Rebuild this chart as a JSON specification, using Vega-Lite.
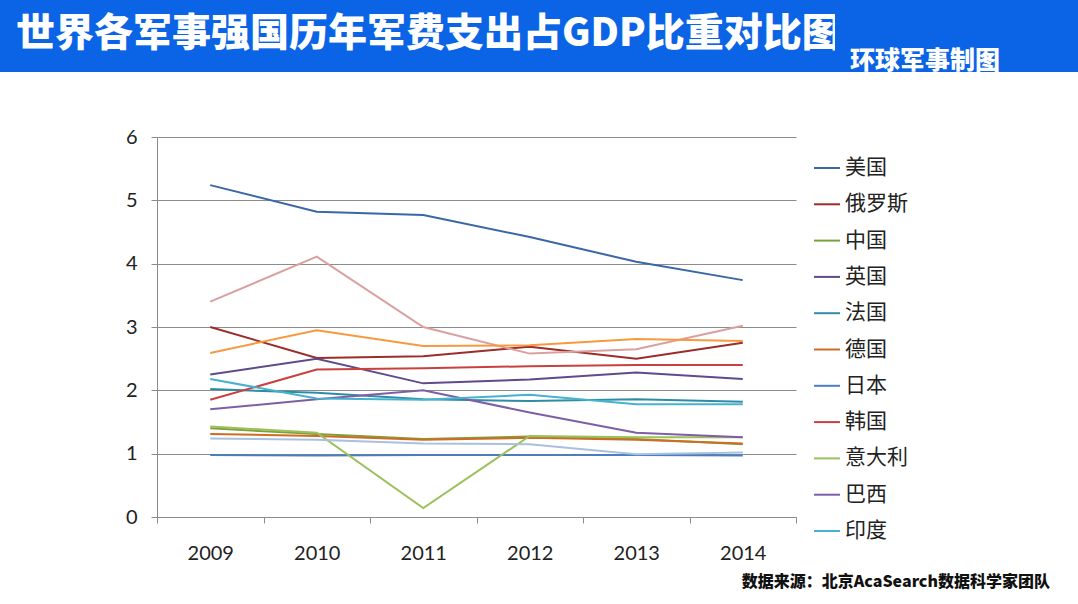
{
  "$schema": "https://vega.github.io/schema/vega-lite/v6.json",
  "background": "white",
  "padding": {"left": 0, "top": 0, "right": 0, "bottom": 14},
  "bounds": "flush",
  "spacing": 137,
  "config": {"view": {"stroke": null}, "font": "Noto Sans CJK SC"},
  "vconcat": [
    {
      "bounds": "flush",
      "spacing": 0,
      "hconcat": [
        {
          "width": 835,
          "height": 72,
          "view": {"fill": "#0B63E5", "stroke": null},
          "data": {"values": [{}]},
          "mark": {"type": "point", "opacity": 0},
          "encoding": {},
          "title": {"text": "世界各军事强国历年军费支出占GDP比重对比图", "orient": "bottom", "anchor": "start", "frame": "group", "offset": -57, "dx": 16, "fontSize": 39, "fontWeight": 900, "color": "white", "font": "Noto Sans CJK SC"}
        },
        {
          "width": 243,
          "height": 72,
          "view": {"fill": "#0B63E5", "stroke": null},
          "data": {"values": [{}]},
          "mark": {"type": "point", "opacity": 0},
          "encoding": {},
          "title": {"text": "环球军事制图", "orient": "bottom", "anchor": "start", "frame": "group", "offset": -23, "dx": 15, "fontSize": 25, "fontWeight": 900, "color": "white", "font": "Noto Sans CJK SC"}
        }
      ]
    },
    {
      "bounds": "flush",
      "spacing": 0,
      "hconcat": [
        {
          "width": 157,
          "height": 380,
          "data": {"values": [{}]},
          "mark": {"type": "point", "opacity": 0},
          "encoding": {}
        },
        {
          "width": 639,
          "height": 380,
          "title": {"text": "数据来源：北京AcaSearch数据科学家团队", "orient": "bottom", "anchor": "end", "frame": "group", "offset": 11, "dx": 254, "fontSize": 16, "fontWeight": 900, "color": "#111111", "font": "Noto Sans CJK SC"},
          "data": {"values": [
            {"country": "美国", "year": "2009", "value": 5.24},
            {"country": "美国", "year": "2010", "value": 4.82},
            {"country": "美国", "year": "2011", "value": 4.77},
            {"country": "美国", "year": "2012", "value": 4.42},
            {"country": "美国", "year": "2013", "value": 4.03},
            {"country": "美国", "year": "2014", "value": 3.74},
            {"country": "俄罗斯", "year": "2009", "value": 3.0},
            {"country": "俄罗斯", "year": "2010", "value": 2.51},
            {"country": "俄罗斯", "year": "2011", "value": 2.54},
            {"country": "俄罗斯", "year": "2012", "value": 2.69},
            {"country": "俄罗斯", "year": "2013", "value": 2.5},
            {"country": "俄罗斯", "year": "2014", "value": 2.75},
            {"country": "中国", "year": "2009", "value": 1.4},
            {"country": "中国", "year": "2010", "value": 1.31},
            {"country": "中国", "year": "2011", "value": 1.23},
            {"country": "中国", "year": "2012", "value": 1.27},
            {"country": "中国", "year": "2013", "value": 1.23},
            {"country": "中国", "year": "2014", "value": 1.15},
            {"country": "英国", "year": "2009", "value": 2.25},
            {"country": "英国", "year": "2010", "value": 2.5},
            {"country": "英国", "year": "2011", "value": 2.11},
            {"country": "英国", "year": "2012", "value": 2.17},
            {"country": "英国", "year": "2013", "value": 2.28},
            {"country": "英国", "year": "2014", "value": 2.18},
            {"country": "法国", "year": "2009", "value": 2.02},
            {"country": "法国", "year": "2010", "value": 1.96},
            {"country": "法国", "year": "2011", "value": 1.86},
            {"country": "法国", "year": "2012", "value": 1.83},
            {"country": "法国", "year": "2013", "value": 1.86},
            {"country": "法国", "year": "2014", "value": 1.82},
            {"country": "德国", "year": "2009", "value": 1.31},
            {"country": "德国", "year": "2010", "value": 1.28},
            {"country": "德国", "year": "2011", "value": 1.22},
            {"country": "德国", "year": "2012", "value": 1.25},
            {"country": "德国", "year": "2013", "value": 1.22},
            {"country": "德国", "year": "2014", "value": 1.16},
            {"country": "日本", "year": "2009", "value": 0.98},
            {"country": "日本", "year": "2010", "value": 0.97},
            {"country": "日本", "year": "2011", "value": 0.98},
            {"country": "日本", "year": "2012", "value": 0.98},
            {"country": "日本", "year": "2013", "value": 0.98},
            {"country": "日本", "year": "2014", "value": 0.97},
            {"country": "韩国", "year": "2009", "value": 1.85},
            {"country": "韩国", "year": "2010", "value": 2.33},
            {"country": "韩国", "year": "2011", "value": 2.35},
            {"country": "韩国", "year": "2012", "value": 2.38},
            {"country": "韩国", "year": "2013", "value": 2.4},
            {"country": "韩国", "year": "2014", "value": 2.4},
            {"country": "意大利", "year": "2009", "value": 1.43},
            {"country": "意大利", "year": "2010", "value": 1.33},
            {"country": "意大利", "year": "2011", "value": 0.14},
            {"country": "意大利", "year": "2012", "value": 1.28},
            {"country": "意大利", "year": "2013", "value": 1.26},
            {"country": "意大利", "year": "2014", "value": 1.26},
            {"country": "巴西", "year": "2009", "value": 1.7},
            {"country": "巴西", "year": "2010", "value": 1.86},
            {"country": "巴西", "year": "2011", "value": 2.0},
            {"country": "巴西", "year": "2012", "value": 1.65},
            {"country": "巴西", "year": "2013", "value": 1.33},
            {"country": "巴西", "year": "2014", "value": 1.26},
            {"country": "印度", "year": "2009", "value": 2.18},
            {"country": "印度", "year": "2010", "value": 1.87},
            {"country": "印度", "year": "2011", "value": 1.85},
            {"country": "印度", "year": "2012", "value": 1.93},
            {"country": "印度", "year": "2013", "value": 1.78},
            {"country": "印度", "year": "2014", "value": 1.78},
            {"country": "伊朗", "year": "2009", "value": 3.4},
            {"country": "伊朗", "year": "2010", "value": 4.11},
            {"country": "伊朗", "year": "2011", "value": 3.0},
            {"country": "伊朗", "year": "2012", "value": 2.58},
            {"country": "伊朗", "year": "2013", "value": 2.65},
            {"country": "伊朗", "year": "2014", "value": 3.02},
            {"country": "土耳其", "year": "2009", "value": 2.59},
            {"country": "土耳其", "year": "2010", "value": 2.95},
            {"country": "土耳其", "year": "2011", "value": 2.7},
            {"country": "土耳其", "year": "2012", "value": 2.71},
            {"country": "土耳其", "year": "2013", "value": 2.81},
            {"country": "土耳其", "year": "2014", "value": 2.78},
            {"country": "加拿大", "year": "2009", "value": 1.24},
            {"country": "加拿大", "year": "2010", "value": 1.22},
            {"country": "加拿大", "year": "2011", "value": 1.16},
            {"country": "加拿大", "year": "2012", "value": 1.15},
            {"country": "加拿大", "year": "2013", "value": 0.99},
            {"country": "加拿大", "year": "2014", "value": 1.02}
          ]},
          "mark": {"type": "line", "strokeWidth": 2},
          "encoding": {
            "x": {
              "field": "year",
              "type": "ordinal",
              "bandPosition": 0.5,
              "scale": {"type": "band", "paddingInner": 0, "paddingOuter": 0},
              "axis": {"title": null, "labelAngle": 0, "tickBand": "extent", "grid": false, "domainColor": "#8c8c8c", "tickColor": "#8c8c8c", "tickSize": 6, "labelPadding": 20, "labelFont": "Lato", "labelFontSize": 20, "labelColor": "#222222"}
            },
            "y": {
              "field": "value",
              "type": "quantitative",
              "scale": {"domain": [0, 6], "nice": false},
              "axis": {"title": null, "values": [0, 1, 2, 3, 4, 5, 6], "grid": true, "gridColor": "#8c8c8c", "domainColor": "#8c8c8c", "tickColor": "#8c8c8c", "tickSize": 6, "labelPadding": 14, "labelFont": "Lato", "labelFontSize": 20, "labelColor": "#222222", "labelFlush": false}
            },
            "color": {
              "field": "country",
              "type": "nominal",
              "scale": {
                "domain": ["美国", "俄罗斯", "中国", "英国", "法国", "德国", "日本", "韩国", "意大利", "巴西", "印度", "伊朗", "土耳其", "加拿大"],
                "range": ["#3A67A6", "#9B2D2A", "#7BA23F", "#5F4B8B", "#2E8CA6", "#D06C22", "#4A7EBE", "#C8413E", "#9CC05A", "#7D5FA5", "#47B2CF", "#D9A09F", "#F8993F", "#A9C0E0"]
              },
              "legend": {
                "title": null,
                "values": ["美国", "俄罗斯", "中国", "英国", "法国", "德国", "日本", "韩国", "意大利", "巴西", "印度"],
                "orient": "none",
                "legendX": 813,
                "legendY": 154,
                "padding": 0,
                "symbolType": "stroke",
                "symbolSize": 676,
                "symbolStrokeWidth": 2,
                "labelFont": "Noto Sans CJK SC",
                "labelFontSize": 21,
                "labelColor": "#222222",
                "labelOffset": 4,
                "rowPadding": 12.3
              }
            }
          }
        }
      ]
    }
  ]
}
